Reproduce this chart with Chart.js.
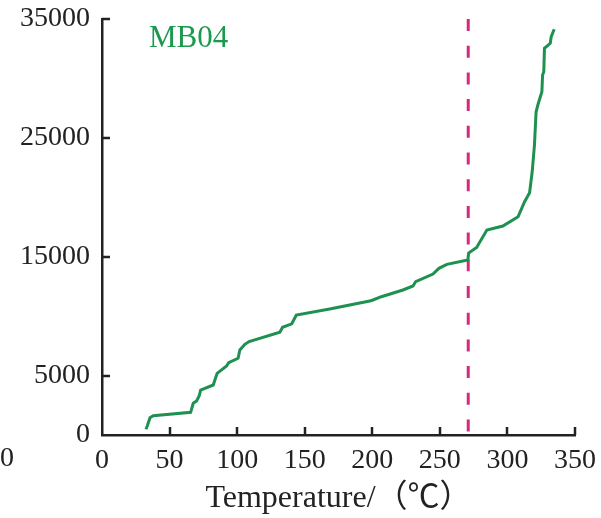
<!DOCTYPE html>
<html>
<head>
<meta charset="utf-8">
<script src="https://cdn.jsdelivr.net/npm/chart.js@4"></script>
<style>
  html, body { margin: 0; padding: 0; background: #fff; }
  #wrap { width: 601px; height: 518px; position: relative; }
</style>
</head>
<body>
<div id="wrap"><canvas id="tempChart" width="601" height="518"></canvas></div>
<script>
// curve (temperature in C, cumulative value)
const temps = [32.5, 33.5, 35.5, 37.9, 65.6, 67.5, 70.0, 71.9, 73.0, 82.3,
               85.2, 92.2, 93.7, 100.7, 102.0, 105.7, 108.9, 131.6, 133.6, 140.4,
               143.8, 168.5, 198.1, 200.5, 206.7, 222.7, 230.1, 232.1, 244.9, 249.3,
               255.2, 270.7, 271.3, 277.2, 284.8, 296.6, 307.9, 312.7, 316.4, 318.3,
               320.0, 321.2, 322.5, 325.5, 326.0, 326.9, 327.4, 331.7, 332.4, 334.6];
const values = [480, 757, 1455, 1624, 1910, 2667, 2860, 3281, 3786, 4207,
                5191, 5805, 6083, 6453, 7151, 7631, 7866, 8640, 9061, 9355,
                10096, 10600, 11273, 11358, 11635, 12199, 12535, 12897, 13545, 14024,
                14361, 14723, 15312, 15775, 17247, 17583, 18366, 19627, 20384, 22126,
                24398, 27174, 27763, 28882, 30287, 30565, 32533, 32954, 33509, 34140];
const markerTemp = 271;
const xTicks = [0, 50, 100, 150, 200, 250, 300, 350];
const yTicks = [0, 5000, 15000, 25000, 35000];
const sampleName = "MB04";

const axisColor = "#222";
const serif = "'Liberation Serif', 'Times New Roman', 'Noto Sans CJK SC', serif";

// inward tick marks, the "MB04" label and the stray clipped label at the left edge
const extras = {
    id: "extras",
    afterDraw(chart) {
        const ctx = chart.ctx;
        const xs = chart.scales.x, ys = chart.scales.y;
        const area = chart.chartArea;
        ctx.save();
        ctx.strokeStyle = axisColor;
        ctx.lineWidth = 2.5;
        xTicks.slice(1).forEach(v => {
            const px = Math.round(xs.getPixelForValue(v));
            ctx.beginPath();
            ctx.moveTo(px, area.bottom);
            ctx.lineTo(px, area.bottom - 8);
            ctx.stroke();
        });
        yTicks.slice(1).forEach(v => {
            const py = Math.round(ys.getPixelForValue(v));
            ctx.beginPath();
            ctx.moveTo(area.left, py);
            ctx.lineTo(area.left + 8, py);
            ctx.stroke();
        });
        ctx.fillStyle = "#1a9a4c";
        ctx.font = "31px " + serif;
        ctx.textBaseline = "alphabetic";
        ctx.fillText(sampleName, 149, 47);
        ctx.fillStyle = axisColor;
        ctx.font = "28px " + serif;
        ctx.textAlign = "center";
        ctx.textBaseline = "middle";
        ctx.fillText("0", 7, 459);
        ctx.restore();
    }
};

function noPadding(s) {
    s.paddingTop = 0; s.paddingBottom = 0;
    s.paddingLeft = 0; s.paddingRight = 0;
}

const ctx = document.getElementById("tempChart").getContext("2d");
new Chart(ctx, {
    type: "scatter",
    data: {
        datasets: [{
            data: temps.map((t, i) => ({ x: t, y: values[i] })),
            showLine: true,
            borderColor: "#1e9150",
            borderWidth: 3,
            pointRadius: 0,
            tension: 0,
            clip: false
        }, {
            data: [{ x: markerTemp, y: 35000 }, { x: markerTemp, y: 0 }],
            showLine: true,
            borderColor: "#d6287e",
            borderWidth: 3,
            borderDash: [12, 14.7],
            pointRadius: 0,
            clip: false
        }]
    },
    options: {
        responsive: false,
        animation: false,
        layout: { padding: { left: 0, right: 26, top: 19, bottom: 0 } },
        plugins: { legend: { display: false }, tooltip: { enabled: false } },
        scales: {
            x: {
                type: "linear",
                min: 0,
                max: 350,
                afterBuildTicks: s => { s.ticks = xTicks.map(v => ({ value: v })); },
                afterFit: s => { s.height = 83; noPadding(s); },
                grid: { display: false, drawTicks: false },
                border: { display: true, color: axisColor, width: 2.5 },
                ticks: {
                    color: axisColor,
                    padding: 9,
                    maxRotation: 0,
                    font: { family: serif, size: 28 }
                },
                title: {
                    display: true,
                    text: "Temperature/（℃）",
                    color: axisColor,
                    padding: { top: 3, bottom: 0 },
                    font: { family: serif, size: 32 }
                }
            },
            y: {
                type: "linear",
                min: 0,
                max: 35000,
                afterBuildTicks: s => { s.ticks = yTicks.map(v => ({ value: v })); },
                afterFit: s => { s.width = 102; noPadding(s); },
                grid: { display: false, drawTicks: false },
                border: { display: true, color: axisColor, width: 2.5 },
                ticks: {
                    color: axisColor,
                    padding: 12,
                    font: { family: serif, size: 28 },
                    callback: v => String(v)
                }
            }
        }
    },
    plugins: [extras]
});
</script>
</body>
</html>
